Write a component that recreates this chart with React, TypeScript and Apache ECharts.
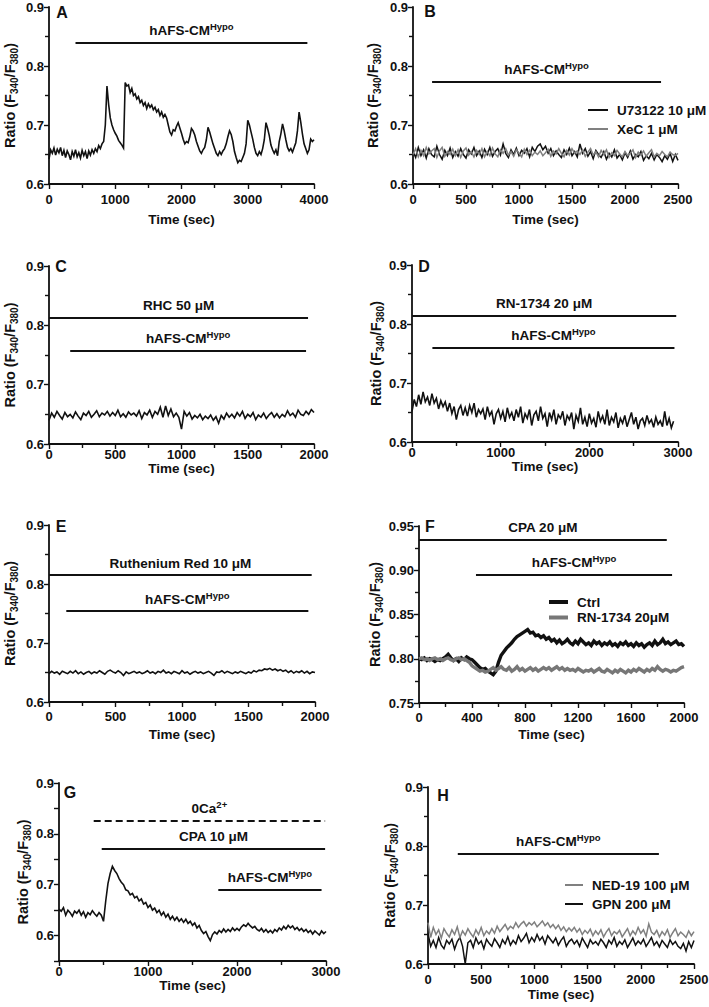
import React, { useEffect, useRef } from 'react';
import * as echarts from 'echarts';

const FONT = '"Liberation Sans", Arial, Helvetica, sans-serif';
const INK = '#111';
const GREY = '#808080';

// ---------- sampled traces (sample interval in seconds, ratio values) ----------
const dtA = 25;
const ratioA = [
  0.642, 0.658, 0.652, 0.661, 0.649, 0.659, 0.653, 0.662,
  0.648, 0.657, 0.645, 0.656, 0.650, 0.641, 0.655, 0.647,
  0.658, 0.646, 0.653, 0.644, 0.657, 0.648, 0.655, 0.643,
  0.656, 0.649, 0.658, 0.652, 0.660, 0.655, 0.665, 0.660,
  0.668, 0.672, 0.700, 0.766, 0.735, 0.712, 0.700, 0.692,
  0.686, 0.681, 0.674, 0.670, 0.666, 0.661, 0.772, 0.766,
  0.768, 0.755, 0.762, 0.750, 0.753, 0.744, 0.748, 0.738,
  0.742, 0.733, 0.738, 0.728, 0.736, 0.730, 0.734, 0.726,
  0.730, 0.722, 0.726, 0.716, 0.722, 0.713, 0.718, 0.712,
  0.700, 0.688, 0.683, 0.692, 0.690, 0.698, 0.704, 0.695,
  0.686, 0.676, 0.668, 0.672, 0.670, 0.680, 0.694, 0.690,
  0.683, 0.672, 0.664, 0.656, 0.652, 0.658, 0.662, 0.675,
  0.696, 0.688, 0.678, 0.668, 0.660, 0.652, 0.648, 0.655,
  0.650, 0.656, 0.660, 0.668, 0.680, 0.690, 0.684, 0.672,
  0.655, 0.645, 0.636, 0.640, 0.638, 0.645, 0.652, 0.668,
  0.708, 0.700, 0.688, 0.676, 0.662, 0.652, 0.648, 0.655,
  0.650, 0.660, 0.675, 0.704, 0.694, 0.682, 0.666, 0.658,
  0.652, 0.658, 0.648, 0.672, 0.685, 0.702, 0.690, 0.675,
  0.662, 0.656, 0.660, 0.654, 0.662, 0.670, 0.690, 0.722,
  0.705, 0.685, 0.668, 0.660, 0.652, 0.658, 0.676, 0.672,
  0.675,
];

const dtB = 25;
const ratioB_U73122 = [
  0.655, 0.645, 0.662, 0.648, 0.658, 0.644, 0.660, 0.650,
  0.646, 0.664, 0.650, 0.642, 0.657, 0.648, 0.661, 0.645,
  0.655, 0.647, 0.660, 0.650, 0.644, 0.658, 0.651, 0.662,
  0.648, 0.656, 0.645, 0.659, 0.650, 0.662, 0.647, 0.655,
  0.660, 0.649, 0.668, 0.652, 0.645, 0.658, 0.650, 0.661,
  0.648, 0.657, 0.652, 0.660, 0.646, 0.662, 0.655, 0.664,
  0.668, 0.658, 0.664, 0.652, 0.660, 0.648, 0.656, 0.650,
  0.645, 0.658, 0.650, 0.661, 0.648, 0.655, 0.646, 0.668,
  0.652, 0.660, 0.647, 0.655, 0.643, 0.657, 0.650, 0.645,
  0.655, 0.642, 0.652, 0.646, 0.658, 0.644, 0.650, 0.641,
  0.653, 0.645, 0.656, 0.642, 0.650, 0.646, 0.655, 0.640,
  0.648, 0.643, 0.652, 0.641, 0.650, 0.645, 0.638, 0.648,
  0.642, 0.652, 0.638, 0.650, 0.640,
];
const ratioB_XeC = [
  0.650, 0.660, 0.646, 0.657, 0.648, 0.662, 0.651, 0.656,
  0.660, 0.645, 0.656, 0.662, 0.647, 0.655, 0.650, 0.659,
  0.648, 0.658, 0.645, 0.656, 0.661, 0.649, 0.655, 0.646,
  0.657, 0.650, 0.660, 0.646, 0.655, 0.648, 0.661, 0.651,
  0.646, 0.658, 0.652, 0.660, 0.649, 0.655, 0.647, 0.658,
  0.652, 0.646, 0.659, 0.650, 0.657, 0.648, 0.654, 0.650,
  0.656, 0.648, 0.653, 0.659, 0.647, 0.656, 0.651, 0.660,
  0.652, 0.646, 0.657, 0.649, 0.660, 0.652, 0.656, 0.650,
  0.658, 0.647, 0.654, 0.660, 0.649, 0.655, 0.646, 0.657,
  0.650, 0.658, 0.645, 0.653, 0.648, 0.657, 0.651, 0.646,
  0.655, 0.648, 0.652, 0.658, 0.645, 0.654, 0.649, 0.656,
  0.647, 0.653, 0.658, 0.646, 0.652, 0.648, 0.655, 0.650,
  0.646, 0.654, 0.650, 0.648, 0.652,
];

const dtC = 20;
const ratioC = [
  0.640, 0.652, 0.645, 0.655, 0.648, 0.642, 0.653, 0.646,
  0.650, 0.644, 0.654, 0.647, 0.641, 0.652, 0.648, 0.655,
  0.645, 0.650, 0.656, 0.646, 0.652, 0.649, 0.655, 0.647,
  0.653, 0.648, 0.657, 0.646, 0.651, 0.645, 0.654, 0.649,
  0.652, 0.647, 0.656, 0.643, 0.653, 0.649, 0.657, 0.645,
  0.655, 0.650, 0.662, 0.645, 0.664, 0.648, 0.659, 0.646,
  0.652, 0.645, 0.625, 0.655, 0.647, 0.653, 0.642, 0.648,
  0.644, 0.650, 0.641, 0.647, 0.643, 0.649, 0.640, 0.646,
  0.635, 0.648, 0.642, 0.652, 0.645, 0.650, 0.644, 0.653,
  0.647, 0.655, 0.643, 0.650, 0.646, 0.653, 0.641, 0.649,
  0.645, 0.652, 0.643, 0.649, 0.653, 0.645, 0.651, 0.644,
  0.650, 0.646, 0.656, 0.648, 0.652, 0.645, 0.657, 0.650,
  0.648, 0.655, 0.650, 0.658, 0.653,
];

const dtD = 25;
const ratioD = [
  0.652, 0.672, 0.660, 0.680, 0.664, 0.685, 0.668, 0.676,
  0.662, 0.682, 0.666, 0.674, 0.656, 0.670, 0.660, 0.668,
  0.652, 0.666, 0.648, 0.660, 0.638, 0.655, 0.662, 0.645,
  0.658, 0.644, 0.662, 0.650, 0.666, 0.642, 0.655, 0.648,
  0.656, 0.638, 0.660, 0.645, 0.652, 0.630, 0.648, 0.655,
  0.640, 0.652, 0.634, 0.658, 0.642, 0.650, 0.636, 0.655,
  0.642, 0.660, 0.632, 0.648, 0.640, 0.655, 0.628, 0.646,
  0.652, 0.636, 0.660, 0.640, 0.648, 0.626, 0.650, 0.638,
  0.655, 0.630, 0.646, 0.640, 0.652, 0.628, 0.645, 0.638,
  0.650, 0.622, 0.645, 0.635, 0.658, 0.630, 0.642, 0.626,
  0.648, 0.632, 0.640, 0.625, 0.652, 0.635, 0.644, 0.630,
  0.655, 0.628, 0.642, 0.634, 0.650, 0.624, 0.640, 0.632,
  0.645, 0.626, 0.638, 0.650, 0.630, 0.642, 0.622, 0.636,
  0.640, 0.628, 0.645, 0.632, 0.638, 0.625, 0.642, 0.630,
  0.636, 0.626, 0.652, 0.628, 0.640, 0.624, 0.635,
];

const dtE = 20;
const ratioE = [
  0.648, 0.652, 0.649, 0.651, 0.647, 0.652, 0.650, 0.648,
  0.652, 0.649, 0.653, 0.648, 0.651, 0.647, 0.650, 0.652,
  0.648, 0.651, 0.649, 0.653, 0.650, 0.647, 0.652, 0.654,
  0.651, 0.649, 0.653, 0.650, 0.645, 0.651, 0.648, 0.650,
  0.652, 0.649, 0.651, 0.648, 0.650, 0.653, 0.649, 0.651,
  0.648, 0.652, 0.650, 0.654, 0.649, 0.651, 0.648, 0.652,
  0.650, 0.648, 0.653, 0.649, 0.651, 0.647, 0.650, 0.652,
  0.649, 0.651, 0.648, 0.650, 0.652, 0.649, 0.645, 0.651,
  0.650, 0.653, 0.649, 0.652, 0.650, 0.648, 0.651, 0.649,
  0.652, 0.650, 0.648, 0.651, 0.649, 0.653, 0.651, 0.654,
  0.653, 0.656, 0.655, 0.657, 0.654, 0.656, 0.653, 0.655,
  0.652, 0.654, 0.650, 0.653, 0.649, 0.652, 0.650, 0.653,
  0.649, 0.652, 0.648, 0.651, 0.650,
];

const dtF = 20;
const ratioF_Ctrl = [
  0.800, 0.799, 0.801, 0.798, 0.800, 0.799, 0.797, 0.799,
  0.798, 0.800, 0.802, 0.805, 0.801, 0.798, 0.800, 0.797,
  0.801, 0.799, 0.802, 0.800, 0.799, 0.796, 0.793, 0.790,
  0.788, 0.789, 0.786, 0.784, 0.782, 0.786, 0.796, 0.804,
  0.808, 0.812, 0.815, 0.818, 0.822, 0.825, 0.827, 0.829,
  0.831, 0.833, 0.829, 0.830, 0.826, 0.827, 0.824, 0.826,
  0.822, 0.824, 0.820, 0.822, 0.818, 0.821, 0.817, 0.819,
  0.822, 0.818, 0.816, 0.820, 0.817, 0.822, 0.819, 0.816,
  0.818, 0.815, 0.820, 0.817, 0.819, 0.815, 0.818, 0.816,
  0.819, 0.815, 0.817, 0.814, 0.818, 0.816, 0.819, 0.815,
  0.817, 0.814, 0.818, 0.815, 0.817, 0.813, 0.816, 0.818,
  0.815, 0.820, 0.816, 0.818, 0.822, 0.817, 0.819, 0.816,
  0.818, 0.820, 0.816, 0.817, 0.814,
];
const ratioF_RN = [
  0.800, 0.801, 0.799, 0.800, 0.798, 0.800, 0.801, 0.799,
  0.800, 0.798, 0.800, 0.801, 0.799, 0.798, 0.800, 0.801,
  0.799, 0.800, 0.798, 0.796, 0.792, 0.790, 0.788, 0.786,
  0.787, 0.785, 0.786, 0.788, 0.790, 0.787, 0.789, 0.791,
  0.788, 0.787, 0.790, 0.786, 0.788, 0.791, 0.787, 0.789,
  0.786, 0.788, 0.790, 0.787, 0.789, 0.786, 0.788, 0.790,
  0.788, 0.790, 0.787, 0.789, 0.791, 0.788, 0.790, 0.787,
  0.789, 0.787, 0.788, 0.786, 0.789, 0.787, 0.785, 0.787,
  0.786, 0.788, 0.785, 0.787, 0.789, 0.786, 0.785, 0.788,
  0.786, 0.784, 0.787, 0.785, 0.788, 0.786, 0.784, 0.787,
  0.785, 0.788, 0.786, 0.789, 0.787, 0.785, 0.788, 0.786,
  0.789, 0.787, 0.791, 0.788, 0.786, 0.788, 0.787, 0.785,
  0.787, 0.786, 0.788, 0.790, 0.791,
];

const dtG = 25;
const ratioG = [
  0.652, 0.648, 0.655, 0.640, 0.650, 0.645, 0.638, 0.648,
  0.644, 0.650, 0.640, 0.647, 0.636, 0.645, 0.641, 0.649,
  0.643, 0.638, 0.645, 0.640, 0.628, 0.668, 0.702, 0.722,
  0.736, 0.728, 0.722, 0.712, 0.705, 0.700, 0.690, 0.688,
  0.680, 0.683, 0.674, 0.677, 0.668, 0.672, 0.662, 0.665,
  0.655, 0.660, 0.650, 0.654, 0.645, 0.650, 0.640, 0.646,
  0.636, 0.642, 0.632, 0.638, 0.630, 0.636, 0.628, 0.633,
  0.626, 0.632, 0.624, 0.628, 0.620, 0.625, 0.615, 0.620,
  0.610, 0.604, 0.608, 0.598, 0.590, 0.602, 0.607, 0.603,
  0.610, 0.606, 0.613, 0.607, 0.612, 0.608, 0.615, 0.610,
  0.614, 0.610, 0.617, 0.621, 0.618, 0.624, 0.619, 0.615,
  0.618, 0.612, 0.609, 0.614, 0.607, 0.612, 0.606, 0.610,
  0.605, 0.612, 0.608, 0.615, 0.611, 0.618, 0.613, 0.620,
  0.615, 0.619, 0.612, 0.616, 0.610, 0.614, 0.608, 0.612,
  0.606, 0.610, 0.603, 0.609, 0.605, 0.601, 0.609, 0.604,
  0.608,
];

const dtH = 25;
const ratioH_NED = [
  0.670, 0.645, 0.662, 0.650, 0.658, 0.644, 0.660, 0.652,
  0.646, 0.658, 0.650, 0.663, 0.645, 0.656, 0.649, 0.660,
  0.652, 0.646, 0.658, 0.650, 0.662, 0.648, 0.656, 0.651,
  0.660, 0.652, 0.664, 0.655, 0.661, 0.667, 0.658, 0.664,
  0.660, 0.670, 0.662, 0.668, 0.672, 0.664, 0.670, 0.666,
  0.671, 0.663, 0.668, 0.673, 0.665, 0.670, 0.662, 0.667,
  0.660, 0.666, 0.657, 0.663, 0.655, 0.661, 0.656, 0.662,
  0.654, 0.660, 0.650, 0.657, 0.652, 0.659, 0.648, 0.656,
  0.650, 0.658, 0.646, 0.654, 0.660, 0.648, 0.655, 0.651,
  0.657, 0.646, 0.653, 0.660, 0.648, 0.656, 0.650, 0.662,
  0.652, 0.658, 0.647, 0.668, 0.654, 0.650, 0.657, 0.646,
  0.655, 0.649, 0.658, 0.645, 0.653, 0.660, 0.648, 0.654,
  0.650, 0.645, 0.656, 0.648, 0.655,
];
const ratioH_GPN = [
  0.652, 0.630, 0.640, 0.628, 0.645, 0.632, 0.626, 0.640,
  0.634, 0.642, 0.625, 0.638, 0.645, 0.630, 0.600, 0.636,
  0.640, 0.628, 0.644, 0.634, 0.639, 0.626, 0.642, 0.635,
  0.630, 0.643, 0.636, 0.628, 0.641, 0.634, 0.646, 0.632,
  0.640, 0.634, 0.648, 0.638, 0.644, 0.652, 0.636, 0.645,
  0.638, 0.650, 0.640, 0.646, 0.634, 0.648, 0.642, 0.636,
  0.644, 0.632, 0.640, 0.646, 0.630, 0.638, 0.642, 0.634,
  0.640, 0.630, 0.644, 0.636, 0.628, 0.641, 0.634, 0.638,
  0.632, 0.642, 0.636, 0.628, 0.640, 0.634, 0.645, 0.630,
  0.638, 0.633, 0.641, 0.628, 0.636, 0.644, 0.632, 0.639,
  0.634, 0.642, 0.630, 0.637, 0.645, 0.632, 0.638, 0.629,
  0.640, 0.634, 0.628, 0.641, 0.633, 0.638, 0.630, 0.626,
  0.635, 0.622, 0.638, 0.628, 0.640,
];

// ---------- treatment bars: label, start (s), end (s), level ----------
type Bar = { text: string; x0: number; x1: number; y: number; dashed?: boolean };
const HYPO = 'hAFS-CM{sup|Hypo}';
const barsA: Bar[] = [{ text: HYPO, x0: 400, x1: 3900, y: 0.839 }];
const barsB: Bar[] = [{ text: HYPO, x0: 180, x1: 2340, y: 0.774 }];
const barsC: Bar[] = [
  { text: 'RHC 50 μM', x0: 0, x1: 1955, y: 0.813 },
  { text: HYPO, x0: 160, x1: 1940, y: 0.758 },
];
const barsD: Bar[] = [
  { text: 'RN-1734 20 μM', x0: 0, x1: 2980, y: 0.814 },
  { text: HYPO, x0: 230, x1: 2960, y: 0.76 },
];
const barsE: Bar[] = [
  { text: 'Ruthenium Red 10 μM', x0: 0, x1: 1975, y: 0.815 },
  { text: HYPO, x0: 130, x1: 1950, y: 0.754 },
];
const barsF: Bar[] = [
  { text: 'CPA 20 μM', x0: 0, x1: 1870, y: 0.935 },
  { text: HYPO, x0: 430, x1: 1910, y: 0.895 },
];
const barsG: Bar[] = [
  { text: '0Ca{sup|2+}', x0: 390, x1: 2990, y: 0.826, dashed: true },
  { text: 'CPA 10 μM', x0: 480, x1: 2990, y: 0.771 },
  { text: HYPO, x0: 1790, x1: 2950, y: 0.691 },
];
const barsH: Bar[] = [{ text: HYPO, x0: 280, x1: 2170, y: 0.787 }];

// ---------- axis ranges ----------
const xMaxes = [4000, 2500, 2000, 3000, 2000, 2000, 3000, 2500];
const xIntervals = [1000, 500, 500, 1000, 500, 400, 1000, 500];
const yRanges = [
  [0.6, 0.9], [0.6, 0.9], [0.6, 0.9], [0.6, 0.9],
  [0.6, 0.9], [0.75, 0.95], [0.55, 0.9], [0.6, 0.9],
];
const panelLetters = ['A', 'B', 'C', 'D', 'E', 'F', 'G', 'H'];

const toPts = (vals: number[], dt: number) => vals.map((v, i) => [i * dt, v]);

// ---------- layout (pixels) ----------
const layout = [
  { grid: { left: 49, top: 7, width: 265, height: 177 }, xm: 9, xg: 28, yg: 30, letter: [62, 12] },
  { grid: { left: 413, top: 7, width: 265, height: 177 }, xm: 9, xg: 28, yg: 31, letter: [430, 11] },
  { grid: { left: 49, top: 266, width: 265, height: 178 }, xm: 4, xg: 16, yg: 30, letter: [61, 266] },
  { grid: { left: 412, top: 265, width: 266, height: 177 }, xm: 4, xg: 17, yg: 27, letter: [424, 266] },
  { grid: { left: 49, top: 525, width: 266, height: 177 }, xm: 8, xg: 25, yg: 30, letter: [61, 526] },
  { grid: { left: 419, top: 526, width: 265, height: 177 }, xm: 8, xg: 24, yg: 33, letter: [430, 526] },
  { grid: { left: 59, top: 783, width: 267, height: 178 }, xm: 4, xg: 12, yg: 25, letter: [70, 792] },
  { grid: { left: 428, top: 787, width: 266, height: 177 }, xm: 9, xg: 23, yg: 29, letter: [443, 795] },
];

const traceWidth = 1.6;

const txt = { fontFamily: FONT, fontWeight: 'bold' as const, fontSize: 13, color: INK };

function buildOption() {
  const grids = layout.map((l) => ({ ...l.grid, containLabel: false, outerBoundsMode: 'none' }));

  const xAxes = layout.map((l, i) => ({
    type: 'value',
    gridIndex: i,
    min: 0,
    max: xMaxes[i],
    interval: xIntervals[i],
    axisLine: { show: true, onZero: false, lineStyle: { color: INK, width: 1.8 } },
    axisTick: { show: true, length: 5, lineStyle: { color: INK, width: 1.4 } },
    minorTick: { show: true, splitNumber: 2, length: 4, lineStyle: { color: INK, width: 1.4 } },
    splitLine: { show: false },
    minorSplitLine: { show: false },
    axisLabel: { ...txt, margin: l.xm, formatter: (v: number) => String(Math.round(v)) },
    name: 'Time (sec)',
    nameLocation: 'middle',
    nameGap: l.xg,
    nameTextStyle: { ...txt, fontSize: 13.5 },
  }));

  const yAxes = layout.map((l, i) => {
    const [mn, mx] = yRanges[i];
    const isG = i === 6;
    const isF = i === 5;
    return {
      type: 'value',
      gridIndex: i,
      min: mn,
      max: mx,
      interval: isG || isF ? 0.05 : 0.1,
      axisLine: { show: true, onZero: false, lineStyle: { color: INK, width: 1.8 } },
      axisTick: { show: true, length: 5, lineStyle: { color: INK, width: 1.4 } },
      minorTick: { show: !isG, splitNumber: 2, length: 4, lineStyle: { color: INK, width: 1.4 } },
      splitLine: { show: false },
      minorSplitLine: { show: false },
      axisLabel: {
        ...txt,
        margin: 5,
        formatter: (v: number) => {
          if (isF) return v.toFixed(2);
          if (isG) return Math.round(v * 100) % 10 === 0 ? v.toFixed(1) : '';
          return v.toFixed(1);
        },
      },
      name: 'Ratio (F{sub|340}/F{sub|380})',
      nameLocation: 'middle',
      nameGap: l.yg,
      nameTextStyle: {
        ...txt,
        fontSize: 14.5,
        lineHeight: 19,
        rich: {
          sub: { fontFamily: FONT, fontWeight: 'bold', fontSize: 10, color: INK, verticalAlign: 'bottom', lineHeight: 10 },
        },
      },
    };
  });

  const markLineFor = (bars: Bar[]) => ({
    silent: true,
    symbol: ['none', 'none'],
    animation: false,
    emphasis: { disabled: true },
    label: {
      show: true,
      position: 'insideMiddleTop',
      distance: 3,
      ...txt,
      fontSize: 13.5,
      lineHeight: 18,
      rich: {
        sup: { fontFamily: FONT, fontWeight: 'bold', fontSize: 9.5, color: INK, verticalAlign: 'top', lineHeight: 8 },
      },
    },
    lineStyle: { color: INK, width: 2, type: 'solid', opacity: 1 },
    data: bars.map((b) => [
      {
        coord: [b.x0, b.y],
        label: { formatter: b.text },
        lineStyle: { color: INK, width: 2, type: b.dashed ? [7, 4] : 'solid' },
      },
      { coord: [b.x1, b.y] },
    ]),
  });

  const line = (name: string, idx: number, data: number[][], color: string, width: number, bars?: Bar[]) => ({
    type: 'line',
    name,
    xAxisIndex: idx,
    yAxisIndex: idx,
    data,
    showSymbol: false,
    symbol: 'none',
    color,
    itemStyle: { color },
    lineStyle: { color, width, join: 'miter' },
    emphasis: { disabled: true },
    z: 3,
    ...(bars ? { markLine: markLineFor(bars) } : {}),
  });

  const series = [
    line('traceA', 0, toPts(ratioA, dtA), INK, traceWidth, barsA),
    line('U73122 10 μM', 1, toPts(ratioB_U73122, dtB), INK, 1.5, barsB),
    line('XeC 1 μM', 1, toPts(ratioB_XeC, dtB), GREY, 1.5),
    line('traceC', 2, toPts(ratioC, dtC), INK, traceWidth, barsC),
    line('traceD', 3, toPts(ratioD, dtD), INK, traceWidth, barsD),
    line('traceE', 4, toPts(ratioE, dtE), INK, traceWidth, barsE),
    line('Ctrl', 5, toPts(ratioF_Ctrl, dtF), INK, 3.4, barsF),
    line('RN-1734 20μM', 5, toPts(ratioF_RN, dtF), '#777', 3.4),
    line('traceG', 6, toPts(ratioG, dtG), INK, traceWidth, barsG),
    line('GPN 200 μM', 7, toPts(ratioH_GPN, dtH), INK, 1.5, barsH),
    line('NED-19 100 μM', 7, toPts(ratioH_NED, dtH), GREY, 1.5),
  ];

  const legendBase = {
    orient: 'vertical',
    icon: 'rect',
    selectedMode: false,
    textStyle: { ...txt, fontSize: 13.5, padding: [0, 0, 0, 4] },
  };
  const legend = [
    { ...legendBase, data: ['U73122 10 μM', 'XeC 1 μM'], left: 583, top: 98, itemWidth: 20, itemHeight: 2, itemGap: 5 },
    { ...legendBase, data: ['Ctrl', 'RN-1734 20μM'], left: 544, top: 590, itemWidth: 19, itemHeight: 4, itemGap: 1.5 },
    { ...legendBase, data: ['NED-19 100 μM', 'GPN 200 μM'], left: 560, top: 873, itemWidth: 18, itemHeight: 2, itemGap: 5 },
  ];

  const graphic = layout.map((l, i) => ({
    type: 'text',
    x: l.letter[0],
    y: l.letter[1],
    silent: true,
    style: {
      text: panelLetters[i],
      fontFamily: FONT,
      fontWeight: 'bold',
      fontSize: 16,
      fill: INK,
      align: 'center',
      verticalAlign: 'middle',
    },
  }));

  return {
    animation: false,
    backgroundColor: '#fff',
    grid: grids,
    xAxis: xAxes,
    yAxis: yAxes,
    legend,
    series,
    graphic,
  };
}

export default function App() {
  const ref = useRef<HTMLDivElement | null>(null);
  useEffect(() => {
    if (!ref.current) return;
    const chart = echarts.init(ref.current, undefined, { renderer: 'svg' });
    chart.setOption(buildOption() as any);
    return () => chart.dispose();
  }, []);
  return (
    <div
      ref={ref}
      style={{ position: 'absolute', left: 0, top: 0, width: 709, height: 1007, background: '#fff' }}
    />
  );
}
